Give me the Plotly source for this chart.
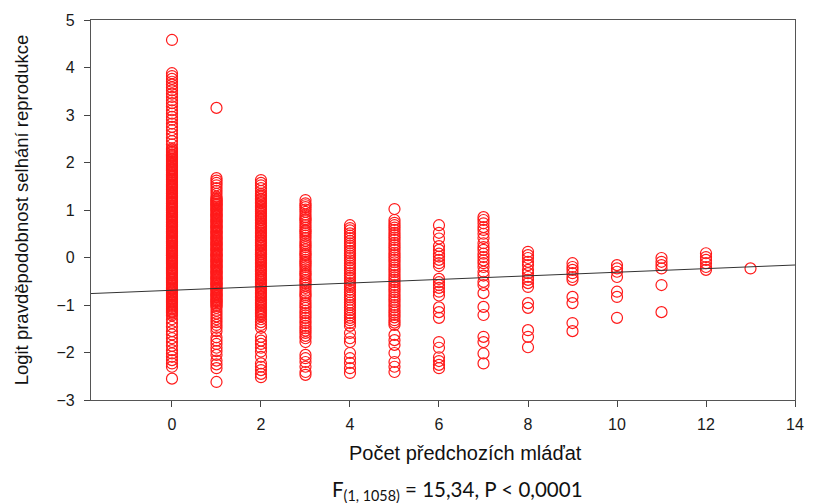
import plotly.graph_objects as go

# Logit of reproductive-failure probability by number of previous young
y_at_0 = [4.58, 3.88, 3.82, 3.76, 3.70, 3.64, 3.58, 3.52, 3.45, 3.38, 3.31, 3.25, 3.18,
          3.10, 3.03, 2.96, 2.90, 2.82, 2.75, 2.68, 2.60, 2.52, 2.45, 2.38, 2.30, 2.22,
          2.15, 2.08, 2.01, 1.94, 1.87, 1.80, 1.73, 1.66, 1.59, 1.52, 1.45, 1.38, 1.31,
          1.24, 1.17, 1.10, 1.03, 0.96, 0.89, 0.82, 0.75, 0.68, 0.61, 0.54, 0.47, 0.40,
          0.33, 0.26, 0.19, 0.12, 0.05, -0.02, -0.09, -0.16, -0.23, -0.30, -0.37, -0.44,
          -0.51, -0.58, -0.65, -0.72, -0.79, -0.86, -0.93, -1.00, -1.07, -1.14, -1.22,
          -1.30, -1.38, -1.46, -1.55, -1.62, -1.70, -1.78, -1.86, -1.95, -2.02, -2.09,
          -2.16, -2.23, -2.30, -2.55,
          2.27, 2.24, 2.20, 2.17, 2.13, 2.11, 2.06, 2.03, 1.99, 1.97, 1.92, 1.89, 1.85,
          1.83, 1.78, 1.75, 1.71, 1.69, 1.64, 1.61, 1.57, 1.54, 1.50, 1.48, 1.43, 1.40,
          1.36, 1.34, 1.29, 1.26, 1.22, 1.19, 1.15, 1.13, 1.08, 1.05, 1.01, 0.99, 0.94,
          0.91, 0.87, 0.85, 0.80, 0.77, 0.73, 0.70, 0.66, 0.64, 0.59, 0.56, 0.52, 0.50,
          0.45, 0.42, 0.38, 0.35, 0.31, 0.29, 0.24, 0.21, 0.17, 0.14, 0.10, 0.08, 0.03,
          0.00, -0.04, -0.07, -0.11, -0.13, -0.18, -0.21, -0.25, -0.28, -0.32, -0.34,
          -0.39, -0.42, -0.46, -0.48, -0.53, -0.56, -0.60, -0.63, -0.67, -0.69, -0.74,
          -0.77, -0.81, -0.83, -0.88, -0.91, -0.95, -0.98, -1.02, -1.04, -1.09, -1.12,
          -1.16, -1.19]
y_at_1 = [3.15, 1.67, 1.62, 1.57, 1.52, 1.46, 1.40, 1.34, 1.28, 1.22, 1.16, 1.10, 1.04,
          0.98, 0.92, 0.86, 0.80, 0.74, 0.68, 0.62, 0.56, 0.50, 0.44, 0.38, 0.32, 0.26,
          0.20, 0.14, 0.08, 0.02, -0.04, -0.10, -0.16, -0.22, -0.28, -0.34, -0.40, -0.46,
          -0.52, -0.58, -0.64, -0.70, -0.76, -0.82, -0.88, -0.94, -1.00, -1.06, -1.12,
          -1.18, -1.24, -1.30, -1.36, -1.42, -1.48, -1.55, -1.68, -1.75, -1.82, -1.90,
          -1.97, -2.05, -2.17, -2.25, -2.33, -2.62,
          1.25, 1.20, 1.18, 1.13, 1.11, 1.07, 1.02, 1.00, 0.95, 0.90, 0.88, 0.83, 0.78,
          0.76, 0.71, 0.66, 0.64, 0.59, 0.54, 0.52, 0.47, 0.42, 0.40, 0.35, 0.30, 0.28,
          0.23, 0.18, 0.16, 0.11, 0.06, 0.04, -0.01, -0.06, -0.08, -0.13, -0.18, -0.20,
          -0.25, -0.30, -0.32, -0.37, -0.42, -0.44, -0.49, -0.54, -0.56, -0.61, -0.66,
          -0.68, -0.73, -0.78, -0.80, -0.85, -0.90, -0.92, -0.97, -1.02]
y_at_2 = [1.63, 1.57, 1.52, 1.46, 1.40, 1.34, 1.28, 1.22, 1.16, 1.10, 1.04, 0.98, 0.92,
          0.86, 0.80, 0.74, 0.68, 0.62, 0.56, 0.50, 0.44, 0.38, 0.32, 0.26, 0.20, 0.14,
          0.08, 0.02, -0.04, -0.10, -0.16, -0.22, -0.28, -0.34, -0.40, -0.46, -0.52,
          -0.58, -0.64, -0.70, -0.76, -0.82, -0.88, -0.94, -1.00, -1.06, -1.12, -1.18,
          -1.24, -1.30, -1.36, -1.42, -1.48, -1.67, -1.75, -1.82, -1.90, -1.98, -2.09,
          -2.23, -2.30, -2.37, -2.45, -2.52,
          1.31, 1.24, 1.19, 1.14, 1.07, 1.01, 0.96, 0.89, 0.83, 0.78, 0.71, 0.65, 0.60,
          0.53, 0.47, 0.42, 0.35, 0.29, 0.24, 0.17, 0.11, 0.06, -0.01, -0.07, -0.12,
          -0.19, -0.25, -0.30, -0.37, -0.43, -0.48, -0.55, -0.61, -0.66, -0.73, -0.79,
          -0.84, -0.91, -0.97, -1.02, -1.09, -1.15, -1.21]
y_at_3 = [1.21, 1.14, 1.06, 0.96, 0.85, 0.78, 0.68, 0.58, 0.51, 0.41, 0.30, 0.22, 0.12,
          0.05, -0.05, -0.12, -0.20, -0.30, -0.37, -0.47, -0.54, -0.64, -0.75, -0.83,
          -0.96, -1.06, -1.17, -1.27, -1.38, -1.49, -1.59, -1.70, -1.78, -2.05, -2.12,
          -2.20, -2.30, -2.41, -2.47,
          1.10, 1.01, 0.90, 0.81, 0.73, 0.63, 0.55, 0.46, 0.35, 0.26, 0.17, 0.08, 0.00,
          -0.09, -0.16, -0.25, -0.34, -0.42, -0.50, -0.59, -0.70, -0.79, -0.90, -1.01,
          -1.12, -1.22, -1.33, -1.44, -1.54, -1.65]
y_at_4 = [0.68, 0.62, 0.51, 0.41, 0.30, 0.20, 0.09, -0.01, -0.12, -0.22, -0.33, -0.43,
          -0.54, -0.62, -0.73, -0.79, -0.89, -1.00, -1.11, -1.17, -1.27, -1.38, -1.59,
          -1.70, -1.78, -2.01, -2.12, -2.22, -2.33, -2.43,
          0.57, 0.46, 0.35, 0.25, 0.14, 0.04, -0.06, -0.17, -0.27, -0.38, -0.48, -0.58,
          -0.68, -0.84, -0.95, -1.05, -1.22, -1.32, -1.44]
y_at_5 = [1.02, 0.79, 0.68, 0.58, 0.47, 0.37, 0.26, 0.16, 0.05, -0.05, -0.16, -0.26,
          -0.37, -0.47, -0.58, -0.68, -0.79, -0.89, -1.00, -1.11, -1.21, -1.32, -1.42,
          -1.63, -1.74, -1.84, -2.01, -2.20, -2.30, -2.41,
          0.73, 0.63, 0.52, 0.42, 0.31, 0.21, 0.10, 0.00, -0.10, -0.21, -0.31, -0.42,
          -0.52, -0.63, -0.73, -0.84, -0.94, -1.05, -1.16, -1.26, -1.37]
y_at_6 = [0.68, 0.52, 0.40, 0.24, 0.16, 0.08, 0.02, -0.05, -0.12, -0.18, -0.45, -0.52,
          -0.58, -0.64, -0.72, -0.80, -1.05, -1.15, -1.27, -1.78, -1.90, -2.10, -2.18,
          -2.26, -2.33]
y_at_7 = [0.85, 0.79, 0.72, 0.64, 0.58, 0.50, 0.41, 0.30, 0.22, 0.16, 0.08, 0.01, -0.06,
          -0.12, -0.20, -0.30, -0.38, -0.51, -0.58, -0.75, -1.04, -1.21, -1.67, -1.78,
          -2.02, -2.23]
y_at_8 = [0.12, 0.05, -0.01, -0.09, -0.16, -0.26, -0.33, -0.41, -0.47, -0.54, -0.62,
          -0.96, -1.06, -1.53, -1.67, -1.89]
y_at_9 = [-0.12, -0.20, -0.26, -0.33, -0.41, -0.47, -0.83, -0.96, -1.38, -1.55]
y_at_10 = [-0.16, -0.23, -0.30, -0.41, -0.72, -0.83, -1.27]
y_at_11 = [-0.01, -0.09, -0.16, -0.23, -0.58, -1.15]
y_at_12 = [0.09, 0.01, -0.05, -0.12, -0.20, -0.26]
y_at_13 = [-0.23]

columns = [y_at_0, y_at_1, y_at_2, y_at_3, y_at_4, y_at_5, y_at_6, y_at_7,
           y_at_8, y_at_9, y_at_10, y_at_11, y_at_12, y_at_13]

# Linear fit drawn across the whole x range
FIT_INTERCEPT = -0.69
FIT_SLOPE = 0.038
X_RANGE = [-1.82, 14.0]
Y_RANGE = [-3, 5]
x_ticks = [0, 2, 4, 6, 8, 10, 12, 14]
y_ticks = [-3, -2, -1, 0, 1, 2, 3, 4, 5]

xs, ys = [], []
for count, vals in enumerate(columns):
    xs.extend([count] * len(vals))
    ys.extend(vals)

fig = go.Figure()
fig.add_trace(go.Scatter(
    x=xs, y=ys, mode="markers",
    marker=dict(symbol="circle-open", size=11, color="#ff1a1a",
                line=dict(width=1.2, color="#ff1a1a")),
    showlegend=False, hoverinfo="skip",
))
fig.add_trace(go.Scatter(
    x=X_RANGE, y=[FIT_INTERCEPT + FIT_SLOPE * v for v in X_RANGE],
    mode="lines", line=dict(color="#333333", width=1),
    showlegend=False, hoverinfo="skip",
))

SANS = "Liberation Sans, Arial, sans-serif"
axis_font = dict(family=SANS, size=16, color="#1a1a1a")
fig.update_xaxes(
    range=X_RANGE, tickvals=x_ticks, ticks="outside", ticklen=6, tickcolor="#444",
    showline=True, mirror=True, linecolor="#555", linewidth=1.2,
    showgrid=False, zeroline=False, tickfont=axis_font, ticklabelstandoff=4,
)
fig.update_yaxes(
    range=Y_RANGE, tickvals=y_ticks, ticks="outside", ticklen=6, tickcolor="#444",
    showline=True, mirror=True, linecolor="#555", linewidth=1.2,
    showgrid=False, zeroline=False, tickfont=axis_font, ticklabelstandoff=6,
    title=dict(text="Logit pravděpodobnost selhání reprodukce", standoff=22,
               font=dict(family=SANS, size=18.5, color="#111")),
)
# x-axis caption and test statistic, set a little right of the axis centre
fig.add_annotation(
    text="Počet předchozích mláďat",
    xref="paper", yref="paper", x=0.532, y=-0.139, yanchor="middle", showarrow=False,
    font=dict(family=SANS, size=20, color="#111"),
)
fig.add_annotation(
    text="F<sub>(1, 1058)</sub> = 15,34, P < 0,0001",
    xref="paper", yref="paper", x=0.52, y=-0.237, yanchor="middle", showarrow=False,
    font=dict(family="Lato, Open Sans, sans-serif", size=20.5, color="#111"),
)
fig.update_layout(
    width=814, height=503,
    margin=dict(l=91, r=10, t=20, b=103),
    plot_bgcolor="white", paper_bgcolor="white",
)
fig.write_html("out.html")
